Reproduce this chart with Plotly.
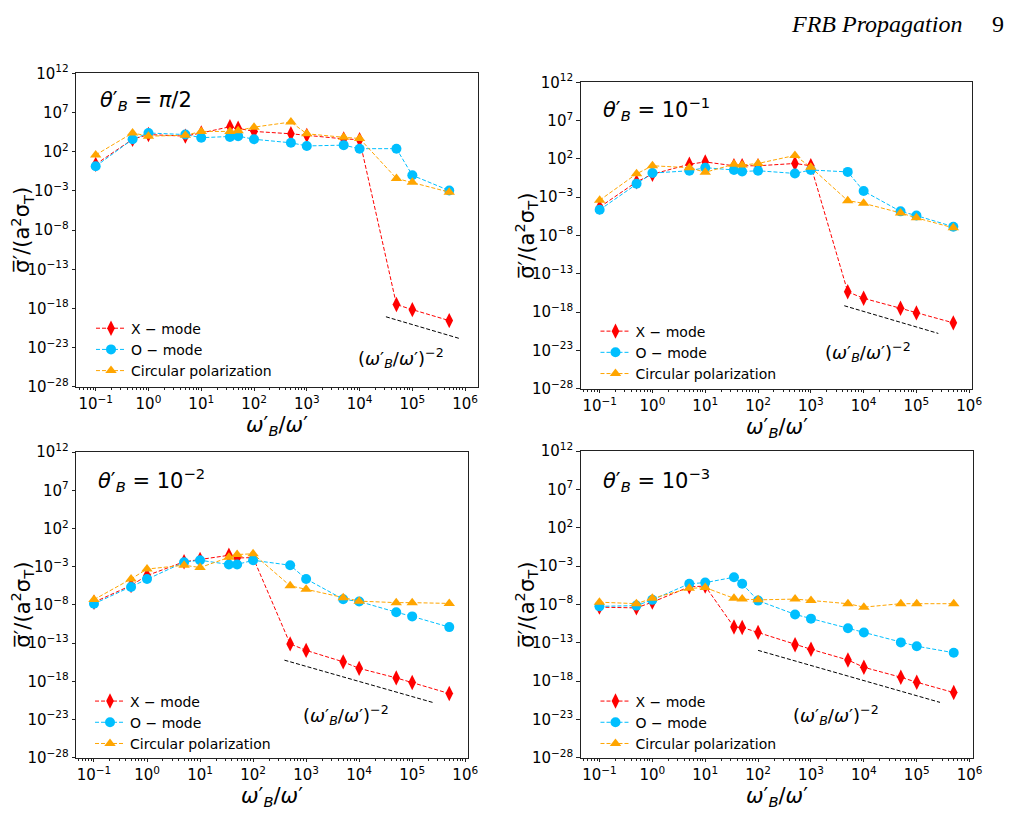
import numpy as np
import plotly.graph_objects as go

# ---------------- data (log10 of sigma'/(a^2 sigma_T)) ----------------
omega_ratio = [0.1, 0.5, 1, 5, 10, 35, 50, 100, 500, 1e3, 5e3, 1e4, 5e4, 1e5, 5e5]

# panel 1: theta'_B = pi/2
xmode_p1 = [0.4, 3.6, 4.2, 4.0, 4.4, 5.2, 5.0, 4.6, 4.3, 4.1, 3.65, 3.55, -17.5, -18.15, -19.55]
omode_p1 = [0.15, 3.6, 4.4, 4.2, 3.8, 3.9, 4.0, 3.6, 3.15, 2.75, 2.85, 2.4, 2.4, -1.0, -2.95]
circ_p1 = [1.6, 4.4, 4.0, 4.1, 4.6, 4.6, 4.7, 5.15, 5.8, 4.3, 3.85, 3.7, -1.4, -1.9, -3.15]

# panel 2: theta'_B = 1e-1
xmode_p2 = [-4.3, -1.0, 0.0, 1.3, 1.6, 1.1, 1.1, 1.1, 1.4, 1.1, -15.35, -16.2, -17.5, -18.1, -19.4]
omode_p2 = [-4.65, -1.25, 0.15, 0.45, 0.85, 0.55, 0.35, 0.45, 0.1, 0.55, 0.3, -2.2, -4.85, -5.4, -6.85]
circ_p2 = [-3.4, 0.05, 1.1, 0.85, 0.25, 1.3, 1.2, 1.4, 2.45, 0.9, -3.45, -3.8, -5.05, -5.7, -7.0]

# panel 3: theta'_B = 1e-2
xmode_p3 = [-7.65, -5.45, -4.15, -2.35, -2.05, -1.5, -1.85, -1.8, -13.1, -13.95, -15.45, -16.3, -17.55, -18.15, -19.6]
omode_p3 = [-7.85, -5.65, -4.6, -2.4, -2.15, -2.7, -2.7, -2.15, -2.8, -4.6, -7.25, -7.55, -8.95, -9.5, -10.9]
circ_p3 = [-7.3, -4.6, -3.3, -2.8, -3.1, -1.75, -1.4, -1.3, -5.5, -5.95, -7.05, -7.5, -7.7, -7.7, -7.8]

# panel 4: theta'_B = 1e-3
xmode_p4 = [-8.35, -8.45, -7.7, -5.7, -5.6, -10.95, -11.0, -11.65, -13.25, -13.85, -15.25, -16.2, -17.5, -18.15, -19.5]
omode_p4 = [-8.25, -8.15, -7.4, -5.3, -5.15, -4.45, -5.3, -7.5, -9.3, -9.85, -11.1, -11.65, -12.95, -13.45, -14.3]
circ_p4 = [-7.7, -7.9, -7.2, -5.9, -5.8, -7.2, -7.3, -7.4, -7.3, -7.5, -7.9, -8.35, -7.9, -7.9, -7.9]

# (omega'_B/omega')^-2 guide lines: [x_start, x_end], [y_start, y_end]
guide_x = [[3.16e4, 8e5], [4.3e3, 2.6e5], [390, 2.45e5], [100, 2.75e5]]
guide_y = [[8.7e-20, 1.4e-22], [6.8e-18, 1.66e-21], [5.9e-16, 1.7e-21], [1.02e-14, 1.66e-21]]

panel_titles = [
    "<i>θ</i>′<sub><i>B</i></sub> = <i>π</i>/2",
    "<i>θ</i>′<sub><i>B</i></sub> = 10<sup>−1</sup>",
    "<i>θ</i>′<sub><i>B</i></sub> = 10<sup>−2</sup>",
    "<i>θ</i>′<sub><i>B</i></sub> = 10<sup>−3</sup>",
]
series_names = ["X − mode", "O − mode", "Circular polarization"]

x_tick_exps = [-1, 0, 1, 2, 3, 4, 5, 6]
y_tick_exps = [12, 7, 2, -3, -8, -13, -18, -23, -28]

# ---------------- layout geometry ----------------
W, H = 1017, 836
FONT = "DejaVu Sans"
# plot areas in pixels: (left, right, top, bottom)
boxes = [(77, 483, 64, 385), (587, 983, 73, 387), (77, 473, 452, 765), (587, 984, 451, 765)]
x_ranges = [(-1.37, 6.24), (-1.36, 6.06), (-1.336, 6.05), (-1.355, 6.07)]
legend_pos = [(92, 309), (602, 312), (91, 691), (602, 691)]
title_pos = [(99, 92), (608, 100), (97, 480), (608, 480)]
label_pos = [(405, 356), (877, 349), (350, 721), (845, 721)]

series_data = [
    (xmode_p1, omode_p1, circ_p1),
    (xmode_p2, omode_p2, circ_p2),
    (xmode_p3, omode_p3, circ_p3),
    (xmode_p4, omode_p4, circ_p4),
]
colors = ["#ff0000", "#00bfff", "#ffa500"]
symbols = ["diamond-tall", "circle", "triangle-up"]
msizes = [11, 10, 10]

fig = go.Figure()
x_arr = np.array(omega_ratio)

minor_vals = [m * 10.0 ** e for e in range(-2, 7) for m in range(2, 10)]

annotations = []
for i in range(4):
    ax = "" if i == 0 else str(i + 1)
    leg = "legend" if i == 0 else f"legend{i + 1}"
    for s in range(3):
        fig.add_trace(go.Scatter(
            x=x_arr, y=10.0 ** np.array(series_data[i][s]),
            mode="lines+markers", name=series_names[s],
            line=dict(color=colors[s], width=1, dash="4px,2px"),
            marker=dict(color=colors[s], symbol=symbols[s], size=msizes[s], line=dict(width=0)),
            xaxis="x" + ax, yaxis="y" + ax, legend=leg, showlegend=True,
        ))
    fig.add_trace(go.Scatter(
        x=guide_x[i], y=guide_y[i], mode="lines",
        line=dict(color="black", width=1, dash="4px,2px"),
        xaxis="x" + ax, yaxis="y" + ax, showlegend=False, hoverinfo="skip",
    ))

    l, r, t, b = boxes[i]
    xd = [l / W, r / W]
    yd = [1 - b / H, 1 - t / H]
    axis_common = dict(
        type="log", showgrid=False, zeroline=False, showline=True, mirror=True,
        linecolor="#222", linewidth=1, ticks="outside", ticklen=3.5, tickwidth=1,
        tickcolor="#222", tickfont=dict(family=FONT, size=15, color="black"),
    )
    fig.update_layout(**{
        "xaxis" + ax: dict(
            axis_common, domain=xd, anchor="y" + ax, range=list(x_ranges[i]),
            tickmode="array", tickvals=[10.0 ** e for e in x_tick_exps],
            ticktext=[f"10<sup>{str(e).replace('-', '−')}</sup>" for e in x_tick_exps],
            minor=dict(tickmode="array", tickvals=minor_vals, ticks="outside",
                       ticklen=2, tickwidth=1, tickcolor="#222", showgrid=False),
        ),
        "yaxis" + ax: dict(
            axis_common, domain=yd, anchor="x" + ax, range=[-28, 12],
            tickmode="array", tickvals=[10.0 ** e for e in y_tick_exps],
            ticktext=[f"10<sup>{str(e).replace('-', '−')}</sup>" for e in y_tick_exps],
        ),
        leg: dict(
            x=legend_pos[i][0] / W, y=1 - legend_pos[i][1] / H, xanchor="left", yanchor="top",
            bgcolor="rgba(0,0,0,0)", borderwidth=0, font=dict(family=FONT, size=14, color="black"),
            tracegroupgap=0, itemwidth=30,
        ),
    })
    # panel title
    annotations.append(dict(
        xref="paper", yref="paper", x=title_pos[i][0] / W, y=1 - title_pos[i][1] / H,
        xanchor="left", yanchor="middle", showarrow=False, text=panel_titles[i],
        font=dict(family=FONT, size=21, color="black"),
    ))
    # guide-line label
    annotations.append(dict(
        xref="paper", yref="paper", x=label_pos[i][0] / W, y=1 - label_pos[i][1] / H,
        xanchor="center", yanchor="middle", showarrow=False,
        text="(<i>ω</i>′<sub><i>B</i></sub>/<i>ω</i>′)<sup>−2</sup>",
        font=dict(family=FONT, size=18, color="black"),
    ))
    # x-axis title
    annotations.append(dict(
        xref="paper", yref="paper", x=(l + r) / 2 / W, y=1 - (b + 40) / H,
        xanchor="center", yanchor="middle", showarrow=False,
        text="<i>ω</i>′<sub><i>B</i></sub>/<i>ω</i>′",
        font=dict(family=FONT, size=21, color="black"),
    ))
    # y-axis title
    annotations.append(dict(
        xref="paper", yref="paper", x=(l - 55) / W, y=1 - (t + b) / 2 / H,
        xanchor="center", yanchor="middle", showarrow=False, textangle=-90,
        text="σ\u0305′/(a<sup>2</sup>σ<sub>T</sub>)",
        font=dict(family=FONT, size=21, color="black"),
    ))

# running header
annotations.append(dict(
    xref="paper", yref="paper", x=975 / W, y=1 - 13 / H, xanchor="right", yanchor="middle",
    showarrow=False, text="<i>FRB Propagation</i>",
    font=dict(family="Liberation Serif", size=24, color="black"),
))
annotations.append(dict(
    xref="paper", yref="paper", x=1017 / W, y=1 - 13 / H, xanchor="right", yanchor="middle",
    showarrow=False, text="9", font=dict(family="Liberation Serif", size=24, color="black"),
))

fig.update_layout(
    width=W, height=H, margin=dict(l=0, r=0, t=0, b=0),
    paper_bgcolor="white", plot_bgcolor="white",
    annotations=annotations, font=dict(family=FONT, color="black"),
)

fig.write_html("out.html")
